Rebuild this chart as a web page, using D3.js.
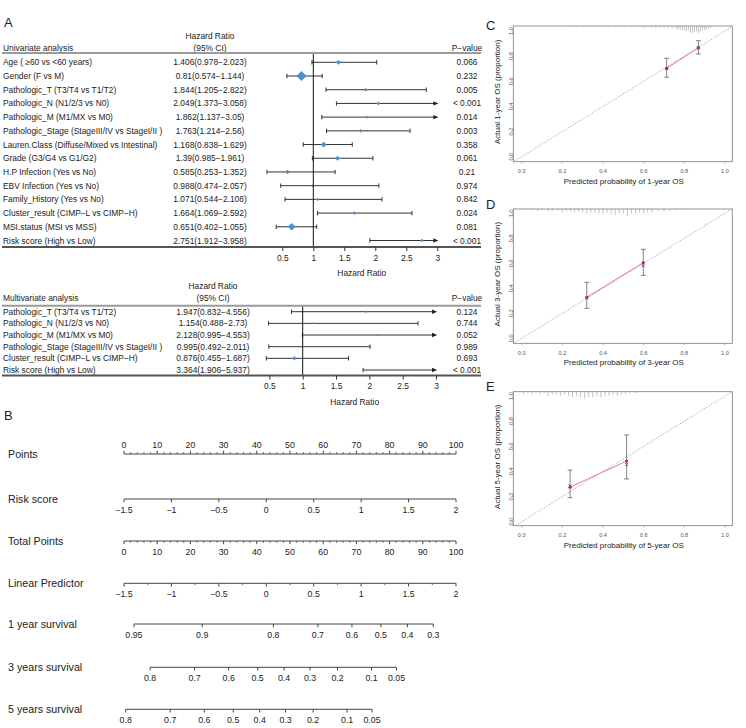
<!doctype html>
<html>
<head>
<meta charset="UTF-8" />
<script src="https://cdn.jsdelivr.net/npm/d3@7"></script>
<style>
  body { margin: 0; background: #fff; }
  svg { font-family: "Liberation Sans", Arial, Helvetica, sans-serif; }
</style>
</head>
<body>
<svg id="fig" width="746" height="728"></svg>
<script>

// ---- Panel A : univariate Cox ----
const uniLabels = ["Age ( \u226560 vs <60 years)", "Gender (F vs M)", "Pathologic_T (T3/T4 vs T1/T2)",
  "Pathologic_N (N1/2/3 vs N0)", "Pathologic_M (M1/MX vs M0)", "Pathologic_Stage (StageIII/IV vs StageI/II )",
  "Lauren.Class (Diffuse/Mixed vs Intestinal)", "Grade (G3/G4 vs G1/G2)", "H.P Infection (Yes vs No)",
  "EBV Infection (Yes vs No)", "Family_History (Yes vs No)", "Cluster_result (CIMP\u2212L vs CIMP\u2212H)",
  "MSI.status (MSI vs MSS)", "Risk score (High vs Low)"];
const uniHR = [1.406, 0.81, 1.844, 2.049, 1.862, 1.763, 1.168, 1.39, 0.585, 0.988, 1.071, 1.664, 0.651, 2.751];
const uniLo = [0.978, 0.574, 1.205, 1.373, 1.137, 1.214, 0.838, 0.985, 0.253, 0.474, 0.544, 1.069, 0.402, 1.912];
const uniHi = [2.023, 1.144, 2.822, 3.058, 3.05, 2.56, 1.629, 1.961, 1.352, 2.057, 2.108, 2.592, 1.055, 3.958];
const uniP = ["0.066", "0.232", "0.005", "< 0.001", "0.014", "0.003", "0.358", "0.061", "0.21", "0.974", "0.842", "0.024", "0.081", "< 0.001"];
const uniWeight = [2.4, 5, 1.8, 1.8, 1.6, 1.8, 2.9, 2.5, 2.3, 1.5, 1.7, 1.8, 3.8, 1.7];

// ---- Panel A : multivariate Cox ----
const multiLabels = ["Pathologic_T (T3/T4 vs T1/T2)", "Pathologic_N (N1/2/3 vs N0)", "Pathologic_M (M1/MX vs M0)",
  "Pathologic_Stage (StageIII/IV vs StageI/II )", "Cluster_result (CIMP\u2212L vs CIMP\u2212H)", "Risk score (High vs Low)"];
const multiHR = [1.947, 1.154, 2.128, 0.995, 0.876, 3.364];
const multiLo = [0.832, 0.488, 0.995, 0.492, 0.455, 1.906];
const multiHi = [4.556, 2.73, 4.553, 2.011, 1.687, 5.937];
const multiP = ["0.124", "0.744", "0.052", "0.989", "0.693", "< 0.001"];
const multiWeight = [1.2, 1.2, 1.2, 1.6, 2.1, 1.2];

const hrTicks = [0.5, 1, 1.5, 2, 2.5, 3];

// ---- Panel B : nomogram ----
const pointTicks = [0, 10, 20, 30, 40, 50, 60, 70, 80, 90, 100];
const pointMinor = [2, 4, 6, 8, 12, 14, 16, 18, 22, 24, 26, 28, 32, 34, 36, 38, 42, 44, 46, 48, 52, 54, 56, 58,
  62, 64, 66, 68, 72, 74, 76, 78, 82, 84, 86, 88, 92, 94, 96, 98];
const riskTicks = [-1.5, -1, -0.5, 0, 0.5, 1, 1.5, 2];
const lpMinor = [-1.25, -0.75, -0.25, 0.25, 0.75, 1.25, 1.75];
const surv1Ticks = [0.95, 0.9, 0.8, 0.7, 0.6, 0.5, 0.4, 0.3];
const surv3Ticks = [0.8, 0.7, 0.6, 0.5, 0.4, 0.3, 0.2, 0.1, 0.05];
const surv5Ticks = [0.8, 0.7, 0.6, 0.5, 0.4, 0.3, 0.2, 0.1, 0.05];
const baseSurv = [0.813, 0.468, 0.3745];   // 1, 3, 5 year baseline survival

// ---- Panels C-E : calibration ----
const calPred1 = [0.713, 0.869], calObs1 = [0.703, 0.867], calLo1 = [0.632, 0.817], calHi1 = [0.783, 0.923], calCorr1 = [0.70, 0.865];
const calPred3 = [0.32, 0.598], calObs3 = [0.328, 0.605], calLo3 = [0.24, 0.504], calHi3 = [0.448, 0.712], calCorr3 = [0.322, 0.58];
const calPred5 = [0.238, 0.516], calObs5 = [0.275, 0.483], calLo5 = [0.191, 0.34], calHi5 = [0.411, 0.69], calCorr5 = [0.285, 0.455];

const rugPred1 = [0.24,0.27,0.30,0.34,0.37,0.40,0.43,0.46,0.49,0.51,0.54,0.56,0.58,0.60,0.62,0.64,0.66,0.68,0.70,0.72,
  0.74,0.76,0.77,0.78,0.79,0.80,0.81,0.82,0.83,0.84,0.85,0.86,0.87,0.88,0.89,0.90,0.91,0.92,0.93];
const rugCount1 = [1,1,1,1,1,1,1,1,1,1,1,1,1,2,1,2,2,2,3,2,3,3,4,4,5,5,6,5,7,8,7,6,8,6,5,5,4,3,2];
const rugPred3 = [0.02,0.05,0.08,0.10,0.13,0.15,0.18,0.20,0.22,0.24,0.26,0.28,0.30,0.32,0.34,0.36,0.38,0.40,0.42,0.44,
  0.46,0.48,0.50,0.52,0.54,0.56,0.58,0.60,0.62,0.64,0.67,0.70,0.73,0.76,0.79];
const rugCount3 = [1,1,2,1,2,2,1,3,2,2,3,2,3,4,3,3,4,4,3,4,5,4,4,6,4,4,3,4,3,3,2,2,2,1,1];
const rugPred5 = [0.01,0.03,0.05,0.07,0.09,0.11,0.13,0.15,0.17,0.19,0.21,0.23,0.25,0.27,0.29,0.31,0.33,0.35,0.37,0.39,
  0.41,0.43,0.45,0.47,0.49,0.51,0.53,0.56];
const rugCount5 = [2,1,2,1,2,1,3,2,2,3,2,3,4,3,4,5,4,4,3,4,3,3,2,3,2,2,1,1];
const calTicks = [0, 0.2, 0.4, 0.6, 0.8, 1.0];

const svg = d3.select("#fig");
const ink = "#222";
const blue = "#4a8fcf";

// panel letters
[["A", 4, 27], ["B", 4, 420], ["C", 486, 29.5], ["D", 486, 208.5], ["E", 486, 391]].forEach(function (d) {
  svg.append("text").attr("x", d[1]).attr("y", d[2]).attr("font-size", 13).attr("fill", ink).text(d[0]);
});

// forest table helper
function drawForest(c) {
  const g = svg.append("g").attr("font-size", 8.4).attr("fill", ink);
  const y = d3.scalePoint().domain(d3.range(c.labels.length)).range([c.rowTop, c.rowBottom]);
  const x = d3.scaleLinear().domain([1, 3]).range([c.x1, c.x3]);

  g.append("text").attr("x", 3).attr("y", c.ciY + 3).text(c.title);
  g.append("text").attr("x", c.hrX).attr("y", c.hrY + 3).attr("text-anchor", "middle").text("Hazard Ratio");
  g.append("text").attr("x", c.hrX).attr("y", c.ciY + 3).attr("text-anchor", "middle").text("(95% CI)");
  g.append("text").attr("x", c.pX).attr("y", c.ciY + 3).attr("text-anchor", "middle").text("P\u2212value");

  g.append("line").attr("x1", 2).attr("x2", 481).attr("y1", c.lineTop).attr("y2", c.lineTop)
    .attr("stroke", "#9a9a9a").attr("stroke-width", 2);

  const rows = g.selectAll(".row").data(c.labels.map(function (l, i) { return i; })).enter().append("g");
  rows.append("text").attr("x", 3).attr("y", function (i) { return y(i) + 3; }).text(function (i) { return c.labels[i]; });
  rows.append("text").attr("x", c.hrX).attr("y", function (i) { return y(i) + 3; }).attr("text-anchor", "middle")
    .text(function (i) { return c.hr[i] + "(" + c.lo[i] + "\u2212" + c.hi[i] + ")"; });
  rows.append("text").attr("x", c.pX).attr("y", function (i) { return y(i) + 3; }).attr("text-anchor", "middle")
    .text(function (i) { return c.p[i]; });

  // reference line at HR = 1
  g.append("line").attr("x1", x(1)).attr("x2", x(1)).attr("y1", c.lineTop + 1).attr("y2", c.lineBottom)
    .attr("stroke", "#111").attr("stroke-width", 1);

  // confidence intervals
  rows.append("line")
    .attr("x1", function (i) { return x(c.lo[i]); })
    .attr("x2", function (i) { return x(Math.min(c.hi[i], 3)); })
    .attr("y1", function (i) { return y(i); }).attr("y2", function (i) { return y(i); })
    .attr("stroke", "#333").attr("stroke-width", 1);
  rows.append("line")
    .attr("x1", function (i) { return x(c.lo[i]); }).attr("x2", function (i) { return x(c.lo[i]); })
    .attr("y1", function (i) { return y(i) - 2.2; }).attr("y2", function (i) { return y(i) + 2.2; })
    .attr("stroke", "#333");
  rows.filter(function (i) { return c.hi[i] <= 3; }).append("line")
    .attr("x1", function (i) { return x(c.hi[i]); }).attr("x2", function (i) { return x(c.hi[i]); })
    .attr("y1", function (i) { return y(i) - 2.2; }).attr("y2", function (i) { return y(i) + 2.2; })
    .attr("stroke", "#333");
  rows.filter(function (i) { return c.hi[i] > 3; }).append("path")
    .attr("d", function (i) {
      const xx = x(3) + 1, yy = y(i);
      return "M" + xx + "," + yy + "L" + (xx - 5) + "," + (yy - 2.2) + "L" + (xx - 5) + "," + (yy + 2.2) + "Z";
    })
    .attr("fill", "#222");

  // point estimates
  rows.filter(function (i) { return c.hr[i] <= 3; }).append("path")
    .attr("d", function (i) {
      const s = c.w[i], xx = x(c.hr[i]), yy = y(i);
      return "M" + (xx - s) + "," + yy + "L" + xx + "," + (yy - s) + "L" + (xx + s) + "," + yy + "L" + xx + "," + (yy + s) + "Z";
    })
    .attr("fill", blue);

  // bottom rule + axis
  g.append("line").attr("x1", 2).attr("x2", 481).attr("y1", c.lineBottom).attr("y2", c.lineBottom)
    .attr("stroke", "#555").attr("stroke-width", 1.8);
  const ax = g.append("g").attr("transform", "translate(0," + c.lineBottom + ")")
    .call(d3.axisBottom(x).tickValues(hrTicks).tickSize(4).tickSizeOuter(0).tickPadding(4).tickFormat(d3.format("")));
  ax.select(".domain").remove();
  ax.selectAll("text").attr("font-size", 8.4).attr("fill", ink).attr("font-family", null);
  ax.selectAll("line").attr("stroke", "#333");
  g.append("text").attr("x", (x(0.5) + x(3)) / 2 + 2).attr("y", c.lineBottom + 29)
    .attr("text-anchor", "middle").text("Hazard Ratio");
}

drawForest({
  title: "Univariate analysis", labels: uniLabels, hr: uniHR, lo: uniLo, hi: uniHi, p: uniP, w: uniWeight,
  hrY: 36, ciY: 48, lineTop: 53, rowTop: 62.3, rowBottom: 240.5, lineBottom: 247,
  x1: 313.3, x3: 437.3, hrX: 210, pX: 467
});
drawForest({
  title: "Multivariate analysis", labels: multiLabels, hr: multiHR, lo: multiLo, hi: multiHi, p: multiP, w: multiWeight,
  hrY: 286, ciY: 297.8, lineTop: 305.7, rowTop: 311.7, rowBottom: 370, lineBottom: 375.5,
  x1: 302.7, x3: 436, hrX: 213, pX: 467
});

// ---- nomogram ----
const ptsX = d3.scaleLinear().domain([0, 100]).range([124, 456]);
const lpX = d3.scaleLinear().domain([-1.5, 2]).range([124, 456]);
function cll(s) { return Math.log(-Math.log(s)); }
function survPos(s0) { return function (s) { return lpX(cll(s) - cll(s0)); }; }

function nomoAxis(c) {
  const g = svg.append("g");
  const xs = c.major.map(c.pos);
  g.append("text").attr("x", 8).attr("y", c.y + 3.5).attr("font-size", 10.7).attr("fill", ink).text(c.label);
  g.append("line").attr("x1", d3.min(xs)).attr("x2", d3.max(xs)).attr("y1", c.y).attr("y2", c.y)
    .attr("stroke", "#444").attr("stroke-width", 1);
  const dir = c.up ? -1 : 1;
  g.selectAll(".maj").data(c.major).enter().append("line")
    .attr("x1", c.pos).attr("x2", c.pos).attr("y1", c.y).attr("y2", c.y + dir * 3.2)
    .attr("stroke", "#444");
  g.selectAll(".min").data(c.minor || []).enter().append("line")
    .attr("x1", c.pos).attr("x2", c.pos).attr("y1", c.y).attr("y2", c.y + dir * 1.8)
    .attr("stroke", "#444").attr("stroke-width", 0.8);
  g.selectAll(".lab").data(c.major).enter().append("text")
    .attr("x", c.pos).attr("y", c.up ? c.y - 6 : c.y + 14)
    .attr("text-anchor", "middle").attr("font-size", 8.8).attr("fill", ink)
    .text(function (d) { return String(d).replace("-", "\u2212"); });
}

nomoAxis({ label: "Points", y: 454, major: pointTicks, minor: pointMinor, pos: ptsX, up: true });
nomoAxis({ label: "Risk score", y: 499, major: riskTicks, pos: lpX });
nomoAxis({ label: "Total Points", y: 541, major: pointTicks, minor: pointMinor, pos: ptsX });
nomoAxis({ label: "Linear Predictor", y: 583.3, major: riskTicks, minor: lpMinor, pos: lpX });
nomoAxis({ label: "1 year survival", y: 624, major: surv1Ticks, pos: survPos(baseSurv[0]) });
nomoAxis({ label: "3 years survival", y: 667.3, major: surv3Ticks, pos: survPos(baseSurv[1]) });
nomoAxis({ label: "5 years survival", y: 709.3, major: surv5Ticks, pos: survPos(baseSurv[2]) });

// ---- calibration plots ----
function drawCal(c) {
  const g = svg.append("g");
  const left = 513.3, right = 732.3;
  const x = d3.scaleLinear().domain([0, 1]).range([521.7, 725]);
  const y = d3.scaleLinear().domain([0, 1]).range([c.y0, c.y1]);
  const clipId = "clip" + c.id;
  g.append("clipPath").attr("id", clipId).append("rect")
    .attr("x", left).attr("y", c.top).attr("width", right - left).attr("height", c.bottom - c.top);

  // ideal line
  const lo = Math.min(x.invert(left), y.invert(c.bottom)), hi = Math.max(x.invert(right), y.invert(c.top));
  g.append("line").attr("clip-path", "url(#" + clipId + ")")
    .attr("x1", x(lo)).attr("y1", y(lo)).attr("x2", x(hi)).attr("y2", y(hi))
    .attr("stroke", "#8e96c8").attr("stroke-width", 0.9).attr("stroke-dasharray", "1.2,1.6");

  // rug of predicted risks
  const len = d3.scaleLinear().domain([0, d3.max(c.rugCount)]).range([0, 7]);
  g.selectAll(".rug").data(c.rugPred).enter().append("line")
    .attr("x1", function (d) { return x(d); }).attr("x2", function (d) { return x(d); })
    .attr("y1", c.top).attr("y2", function (d, i) { return c.top + len(c.rugCount[i]); })
    .attr("stroke", "#9a9a9a").attr("stroke-width", 0.6);

  // box
  g.append("rect").attr("x", left).attr("y", c.top).attr("width", right - left).attr("height", c.bottom - c.top)
    .attr("fill", "none").attr("stroke", "#7a7a7a").attr("stroke-width", 0.8);

  // axes
  g.selectAll(".xt").data(calTicks).enter().append("line")
    .attr("x1", function (d) { return x(d); }).attr("x2", function (d) { return x(d); })
    .attr("y1", c.bottom).attr("y2", c.bottom + 2).attr("stroke", "#999").attr("stroke-width", 0.6);
  g.selectAll(".xl").data(calTicks).enter().append("text")
    .attr("x", function (d) { return x(d); }).attr("y", c.bottom + 11.3)
    .attr("text-anchor", "middle").attr("font-size", 5.6).attr("fill", "#555")
    .text(d3.format(".1f"));
  g.selectAll(".yt").data(calTicks).enter().append("line")
    .attr("x1", left).attr("x2", left - 2).attr("y1", function (d) { return y(d); }).attr("y2", function (d) { return y(d); })
    .attr("stroke", "#999").attr("stroke-width", 0.6);
  g.selectAll(".yl").data(calTicks).enter().append("text")
    .attr("transform", function (d) { return "translate(512.5," + y(d) + ") rotate(-90)"; })
    .attr("text-anchor", "middle").attr("font-size", 5.6).attr("fill", "#555")
    .text(d3.format(".1f"));
  g.append("text").attr("x", (left + right) / 2 + 1).attr("y", c.bottom + 22)
    .attr("text-anchor", "middle").attr("font-size", 8).attr("fill", ink).text(c.xTitle);
  g.append("text").attr("transform", "translate(499.5," + ((c.top + c.bottom) / 2 - 2) + ") rotate(-90)")
    .attr("text-anchor", "middle").attr("font-size", 8).attr("fill", ink).text(c.yTitle);

  // apparent calibration line
  g.append("path").datum(c.pred)
    .attr("d", d3.line().x(function (d) { return x(d); }).y(function (d, i) { return y(c.obs[i]); }))
    .attr("fill", "none").attr("stroke", "#f07878").attr("stroke-width", 1);

  // error bars
  const eb = g.selectAll(".eb").data(c.pred).enter().append("g");
  eb.append("line").attr("x1", function (d) { return x(d); }).attr("x2", function (d) { return x(d); })
    .attr("y1", function (d, i) { return y(c.lo[i]); }).attr("y2", function (d, i) { return y(c.hi[i]); })
    .attr("stroke", "#666").attr("stroke-width", 0.8);
  [c.lo, c.hi].forEach(function (arr) {
    eb.append("line").attr("x1", function (d) { return x(d) - 2.5; }).attr("x2", function (d) { return x(d) + 2.5; })
      .attr("y1", function (d, i) { return y(arr[i]); }).attr("y2", function (d, i) { return y(arr[i]); })
      .attr("stroke", "#666").attr("stroke-width", 0.8);
  });
  // bias corrected (blue x) and observed (red dot)
  eb.append("path").attr("d", function (d, i) {
    const xx = x(d), yy = y(c.corr[i]), s = 1.5;
    return "M" + (xx - s) + "," + (yy - s) + "L" + (xx + s) + "," + (yy + s) + "M" + (xx - s) + "," + (yy + s) + "L" + (xx + s) + "," + (yy - s);
  }).attr("stroke", "#3a5bb0").attr("stroke-width", 0.9);
  eb.append("circle").attr("cx", function (d) { return x(d); }).attr("cy", function (d, i) { return y(c.obs[i]); })
    .attr("r", 1.6).attr("fill", "#c8283c");
}

drawCal({ id: "C", top: 26, bottom: 161.7, y0: 156.7, y1: 31, pred: calPred1, obs: calObs1, lo: calLo1, hi: calHi1, corr: calCorr1,
  rugPred: rugPred1, rugCount: rugCount1, xTitle: "Predicted probability of 1-year OS", yTitle: "Actual 1-year OS (proportion)" });
drawCal({ id: "D", top: 209, bottom: 343.3, y0: 338.3, y1: 213.3, pred: calPred3, obs: calObs3, lo: calLo3, hi: calHi3, corr: calCorr3,
  rugPred: rugPred3, rugCount: rugCount3, xTitle: "Predicted probability of 3-year OS", yTitle: "Actual 3-year OS (proportion)" });
drawCal({ id: "E", top: 391.7, bottom: 525.7, y0: 521.7, y1: 396, pred: calPred5, obs: calObs5, lo: calLo5, hi: calHi5, corr: calCorr5,
  rugPred: rugPred5, rugCount: rugCount5, xTitle: "Predicted probability of 5-year OS", yTitle: "Actual 5-year OS (proportion)" });

</script>
</body>
</html>
